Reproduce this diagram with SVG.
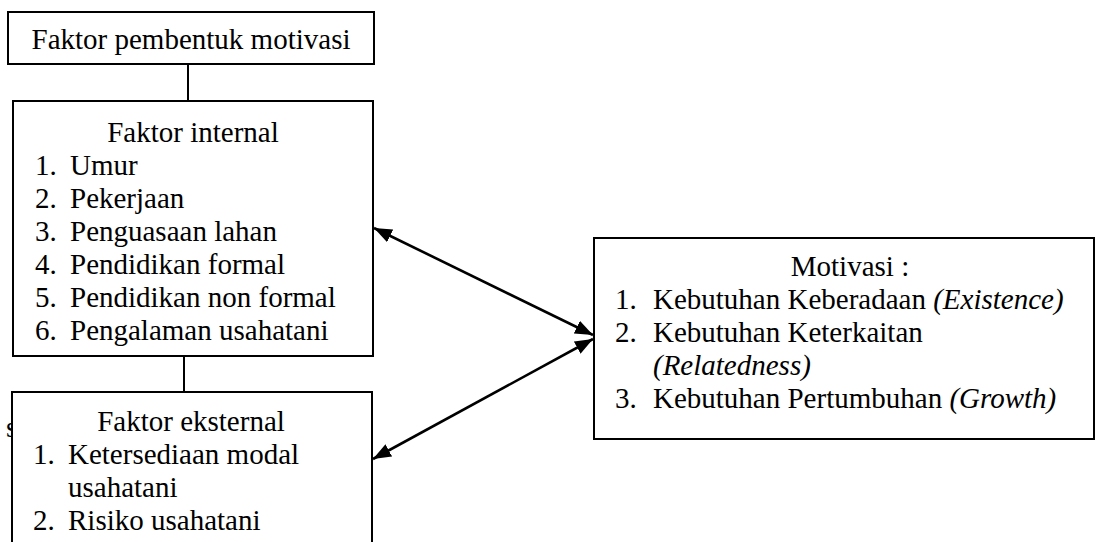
<svg xmlns="http://www.w3.org/2000/svg" width="1096" height="542" viewBox="0 0 1096 542" font-family="'Liberation Serif', 'Times New Roman', 'DejaVu Serif', serif">
<style>
text{font-family:'Liberation Serif','Times New Roman','DejaVu Serif',serif;font-size:29px;fill:#000}
.box{fill:#fff;stroke:#000;stroke-width:2}
.ln{stroke:#000;stroke-width:2;fill:none}
.ar{stroke:#000;stroke-width:2.6;fill:none}
.c{text-anchor:middle}
.i{font-style:italic}
</style>
<defs>
<marker id="ah" viewBox="0 0 18 14" refX="18" refY="7" markerWidth="18" markerHeight="14" markerUnits="userSpaceOnUse" orient="auto-start-reverse">
<path d="M0,0 L18,7 L0,14 z" fill="#000"/>
</marker>
</defs>
<g id="connectors">
<line class="ln" x1="188" y1="64" x2="188" y2="101"/>
<line class="ln" x1="184" y1="356" x2="184" y2="392"/>
<line class="ar" x1="374" y1="228" x2="593" y2="335" marker-start="url(#ah)" marker-end="url(#ah)"/>
<line class="ar" x1="593" y1="339" x2="373" y2="459" marker-start="url(#ah)" marker-end="url(#ah)"/>
</g>
<text x="6" y="437">s</text>
<g id="node-top">
<rect class="box" x="8" y="12" width="366" height="52"/>
<text class="c" x="191" y="49">Faktor pembentuk motivasi</text>
</g>
<g id="node-internal">
<rect class="box" x="13" y="101" width="360" height="255"/>
<text class="c" x="193" y="142">Faktor internal</text>
<text x="35" y="175">1.</text><text x="70" y="175">Umur</text>
<text x="35" y="208">2.</text><text x="70" y="208">Pekerjaan</text>
<text x="35" y="241">3.</text><text x="70" y="241">Penguasaan lahan</text>
<text x="35" y="274">4.</text><text x="70" y="274">Pendidikan formal</text>
<text x="35" y="307">5.</text><text x="70" y="307">Pendidikan non formal</text>
<text x="35" y="340">6.</text><text x="70" y="340">Pengalaman usahatani</text>
</g>
<g id="node-external">
<rect class="box" x="12" y="392" width="360" height="160"/>
<text class="c" x="191" y="431">Faktor eksternal</text>
<text x="33" y="464">1.</text><text x="68" y="464">Ketersediaan modal</text>
<text x="68" y="497">usahatani</text>
<text x="33" y="530">2.</text><text x="68" y="530">Risiko usahatani</text>
</g>
<g id="node-motivasi">
<rect class="box" x="594" y="238" width="500" height="201"/>
<text class="c" x="850" y="276">Motivasi :</text>
<text x="615" y="309">1.</text><text x="653" y="309">Kebutuhan Keberadaan <tspan class="i">(Existence)</tspan></text>
<text x="615" y="342">2.</text><text x="653" y="342">Kebutuhan Keterkaitan</text>
<text x="653" y="375" class="i">(Relatedness)</text>
<text x="615" y="408">3.</text><text x="653" y="408">Kebutuhan Pertumbuhan <tspan class="i">(Growth)</tspan></text>
</g>
</svg>
